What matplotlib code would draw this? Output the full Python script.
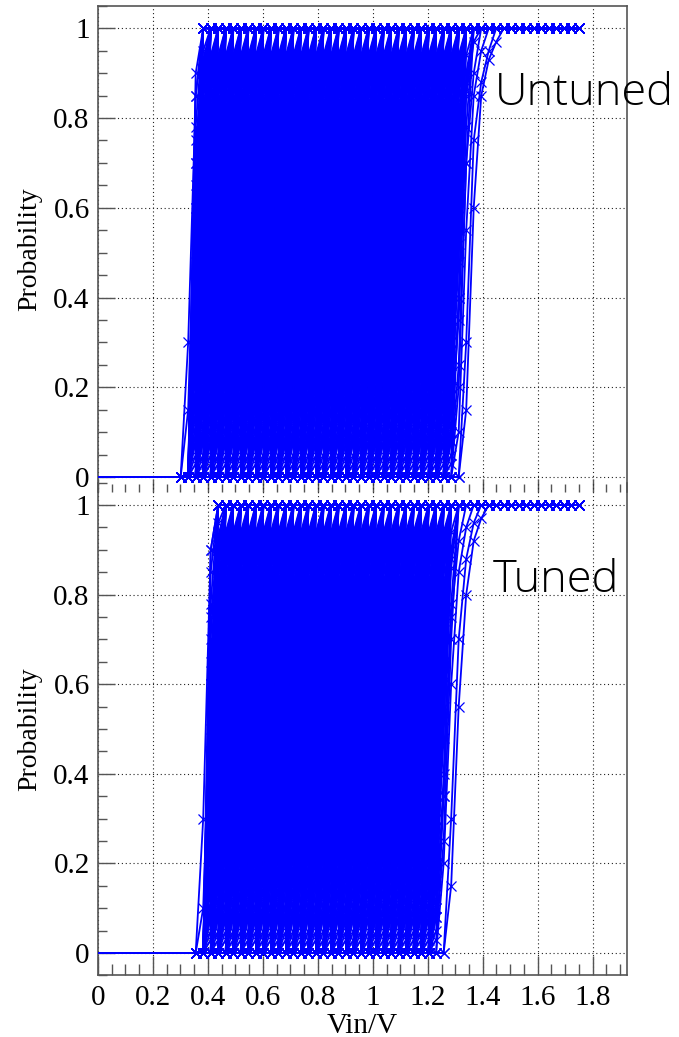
import numpy as np
import matplotlib
matplotlib.use("Agg")
import matplotlib.pyplot as plt
from matplotlib.ticker import MultipleLocator, FuncFormatter

# ---------------------------------------------------------------- data
# Input sweep: 0 .. 1.75 V in 64 equal steps
VIN_MAX = 1.75
N_STEPS = 64

# First sweep point that carries a marker (before it only the P=0 baseline)
UNTUNED_SWEEP_START = 0.301
TUNED_SWEEP_START = 0.355

# Range of onset voltages (last point with P = 0) of the bulk of the curves
UNTUNED_ONSET_WINDOW = (0.328, 1.258)
TUNED_ONSET_WINDOW = (0.383, 1.203)

# Probabilities on the sweep points that follow the onset, before P reaches 1
RISE_PROFILES = [
    [0.50],
    [0.70],
    [0.85],
    [0.30],
    [0.90],
    [0.60],
    [0.78],
    [0.40],
    [0.15, 0.75],
    [0.25, 0.88],
    [0.40, 0.92],
    [0.60, 0.90],
    [0.10, 0.55],
    [0.35, 0.80],
    [0.45, 0.86],
    [0.20, 0.65],
    [0.65, 0.93],
    [0.55, 0.84],
    [0.75, 0.91],
    [0.30, 0.72],
    [0.18, 0.48],
    [0.08, 0.62],
    [0.05, 0.40, 0.90],
    [0.20, 0.65, 0.94],
    [0.08, 0.60, 0.88],
    [0.12, 0.35, 0.78],
    [0.03, 0.25, 0.70],
    [0.28, 0.52, 0.86],
]

# Individual curves outside the bulk: (onset voltage, rising probabilities)
UNTUNED_OUTLIERS = [
    (0.301, [0.30, 0.85]),
    (0.301, [0.15, 0.70, 0.95]),
    (1.285, [0.20, 0.70, 0.90]),
    (1.285, [0.40, 0.85, 0.97]),
    (1.285, [0.10, 0.55, 0.85, 0.95]),
    (1.313, [0.30, 0.75, 0.88, 0.95]),
    (1.313, [0.15, 0.60, 0.85, 0.93, 0.97]),
]
TUNED_OUTLIERS = [
    (0.355, [0.30, 0.90]),
    (0.355, [0.10, 0.60, 0.96]),
    (1.230, [0.20, 0.60, 0.85, 0.95]),
    (1.230, [0.35, 0.75, 0.92]),
    (1.258, [0.30, 0.70, 0.88, 0.96]),
    (1.258, [0.15, 0.55, 0.80, 0.92, 0.97]),
]

X_TICKS = [0, 0.2, 0.4, 0.6, 0.8, 1.0, 1.2, 1.4, 1.6, 1.8]
Y_TICKS = [0, 0.2, 0.4, 0.6, 0.8, 1.0]
X_RANGE = (0.0, 1.925)

# ---------------------------------------------------------------- style
BLUE = "#0000ff"
SERIF = ["Liberation Serif", "DejaVu Serif"]
TITLE_FONT = ["Open Sans", "Noto Sans CJK SC", "DejaVu Sans"]
plt.rcParams["font.family"] = SERIF

W, H = 679, 1037
fig = plt.figure(figsize=(W / 100, H / 100), dpi=100)
fig.patch.set_facecolor("white")


def px_rect(left, top, right, bottom):
    return [left / W, 1 - bottom / H, (right - left) / W, (bottom - top) / H]


ax_top = fig.add_axes(px_rect(98, 5.5, 627, 492))
ax_bot = fig.add_axes(px_rect(98, 482.6, 627, 975.4))

vin = np.linspace(0.0, VIN_MAX, N_STEPS + 1)
step = VIN_MAX / N_STEPS


def build_curve(onset_v, profile, start_v):
    i0 = int(round(onset_v / step))
    s = int(round(start_v / step))
    p = np.ones(len(vin))
    p[: i0 + 1] = 0.0
    p[i0 + 1: i0 + 1 + len(profile)] = profile
    x = np.concatenate([[0.0], vin[s:]])
    y = np.concatenate([[0.0], p[s:]])
    return x, y


def draw_panel(ax, window, outliers, start_v):
    lo = int(round(window[0] / step))
    hi = int(round(window[1] / step))
    curves = []
    for i in range(lo, hi + 1):
        for prof in RISE_PROFILES:
            curves.append((vin[i], prof))
    curves.extend(outliers)
    for onset, prof in curves:
        x, y = build_curve(onset, prof, start_v)
        ax.plot(x, y, color=BLUE, lw=1.3, marker="x", ms=7, mew=0.9,
                markevery=slice(1, None), zorder=3, clip_on=True)


def style_axes(ax, ylim, show_xlabels):
    ax.set_facecolor("none")
    ax.set_xlim(*X_RANGE)
    ax.set_ylim(*ylim)
    ax.xaxis.set_major_locator(MultipleLocator(0.2))
    ax.xaxis.set_minor_locator(MultipleLocator(0.05))
    ax.yaxis.set_major_locator(MultipleLocator(0.2))
    ax.yaxis.set_minor_locator(MultipleLocator(0.05))
    ax.yaxis.set_major_formatter(FuncFormatter(lambda v, _: f"{v:g}"))
    ax.xaxis.set_major_formatter(FuncFormatter(lambda v, _: f"{v:g}"))
    ax.grid(True, which="major", linestyle=(0, (1, 2.5)), linewidth=0.8,
            color="#222222", zorder=1)
    ax.set_axisbelow(True)
    for sp in ax.spines.values():
        sp.set_color("#555555")
        sp.set_linewidth(1.2)
    ax.tick_params(axis="y", which="major", direction="in", length=12,
                   width=1.0, color="#555555", labelsize=21, pad=6,
                   left=True, right=False)
    ax.tick_params(axis="y", which="minor", direction="in", length=6.5,
                   width=1.0, color="#555555", left=True, right=False)
    if show_xlabels:
        ax.tick_params(axis="x", which="major", direction="in", length=14,
                       width=1.0, color="#555555", labelsize=21, pad=7,
                       bottom=True, top=False)
        ax.tick_params(axis="x", which="minor", direction="in", length=8,
                       width=1.0, color="#555555", bottom=True, top=False)
    else:
        ax.tick_params(axis="x", which="major", direction="in", length=9.5,
                       width=1.0, color="#555555", bottom=True, top=False,
                       labelbottom=False)
        ax.tick_params(axis="x", which="minor", direction="in", length=6,
                       width=1.0, color="#555555", bottom=True, top=False)
    ax.set_ylabel("Probability", fontsize=20, labelpad=8)
    ax.set_xticks(X_TICKS)
    ax.set_yticks(Y_TICKS)


draw_panel(ax_top, UNTUNED_ONSET_WINDOW, UNTUNED_OUTLIERS, UNTUNED_SWEEP_START)
draw_panel(ax_bot, TUNED_ONSET_WINDOW, TUNED_OUTLIERS, TUNED_SWEEP_START)

style_axes(ax_top, (-0.0334, 1.0508), show_xlabels=False)
style_axes(ax_bot, (-0.05, 1.05), show_xlabels=True)
ax_top.spines["bottom"].set_visible(False)
ax_bot.spines["top"].set_visible(False)
ax_bot.set_xlabel("Vin/V", fontsize=21, labelpad=1)

fig.text(495 / W, 1 - 105 / H, "Untuned", fontsize=32.5, family=TITLE_FONT,
         fontweight="light", va="baseline", ha="left")
fig.text(493 / W, 1 - 592 / H, "Tuned", fontsize=32.5, family=TITLE_FONT,
         fontweight="light", va="baseline", ha="left")

fig.savefig("out.png", dpi=100, facecolor="white")
